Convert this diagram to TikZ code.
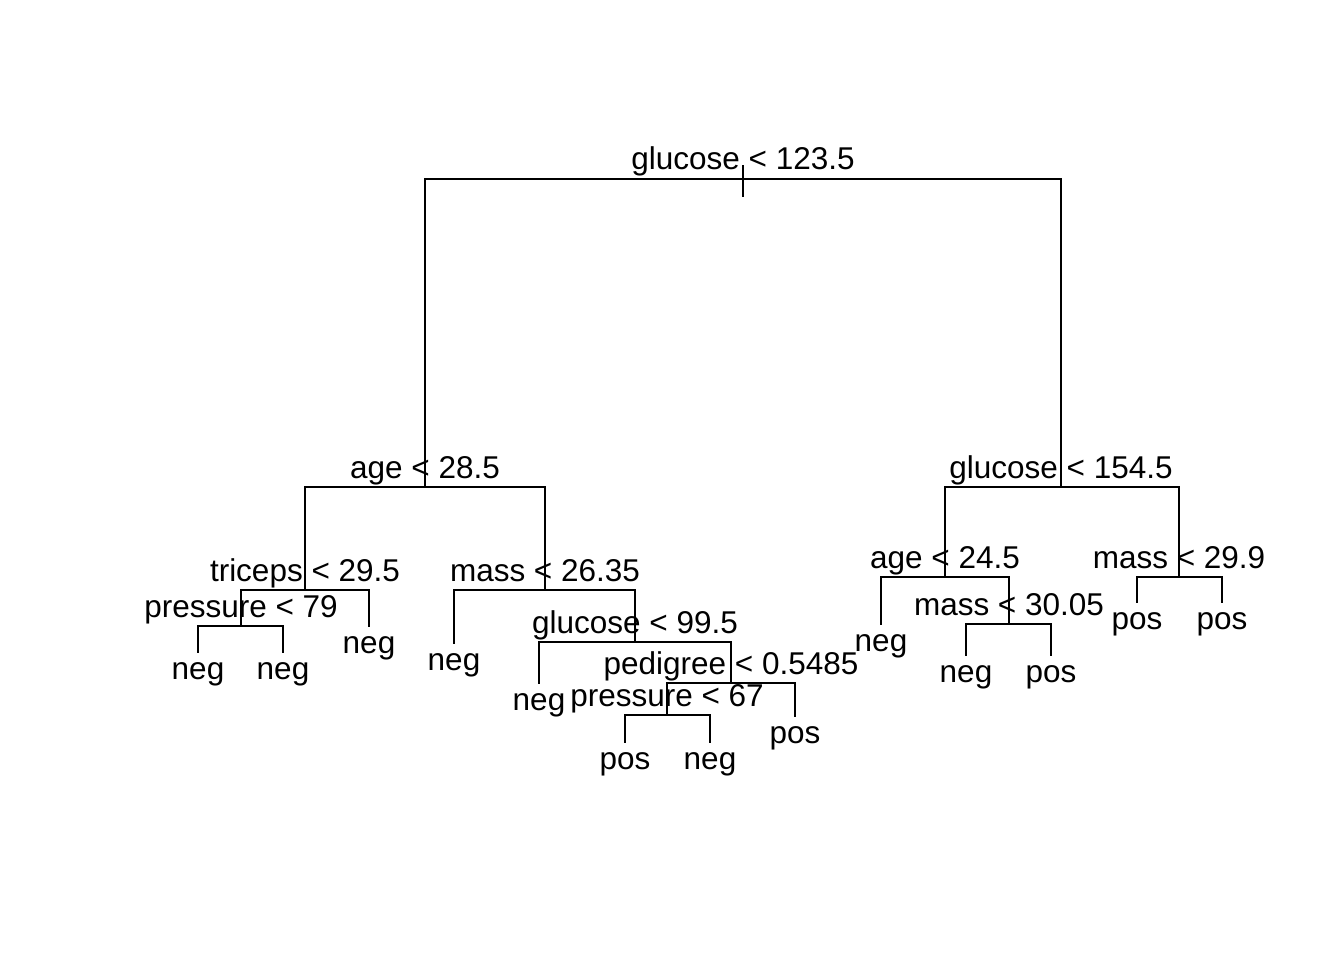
\documentclass[tikz,border=0pt]{standalone}
\usepackage{fontspec}
\setmainfont{Liberation Sans}
\begin{document}
\begin{tikzpicture}[x=1pt,y=-1pt,line width=1.8pt,
  lbl/.style={inner sep=0pt,anchor=base,font=\fontsize{31.5}{36}\selectfont},
  edge/.style={draw,line cap=rect}]
\useasboundingbox (0,0) rectangle (1344,960);
% split points (x, y of horizontal bar) and leaf ends
\coordinate (P0) at (743,179);
\coordinate (A) at (425,487);
\coordinate (B) at (1061,487);
\coordinate (C) at (305,590);
\coordinate (D) at (545,590);
\coordinate (E) at (241,626);
\coordinate (l1) at (369,626);
\coordinate (l2) at (198,652);
\coordinate (l3) at (283,652);
\coordinate (l4) at (454,643);
\coordinate (F) at (635,642);
\coordinate (l5) at (539,683);
\coordinate (G) at (731,683);
\coordinate (H) at (667,715);
\coordinate (l6) at (795,716);
\coordinate (l7) at (625,742);
\coordinate (l8) at (710,742);
\coordinate (I) at (945,577);
\coordinate (J) at (1179,577);
\coordinate (l9) at (881,624);
\coordinate (K) at (1009,624);
\coordinate (l10) at (966,655);
\coordinate (l11) at (1051,655);
\coordinate (l12) at (1137,602);
\coordinate (l13) at (1222,602);
\coordinate (t1) at (743,166);
\coordinate (t2) at (743,196);
% branches
\draw[edge] (A) -- (A |- P0) -- (B |- P0) -- (B);
\draw[edge] (t1) -- (t2);
\draw[edge] (C) -- (C |- A) -- (D |- A) -- (D);
\draw[edge] (E) -- (E |- C) -- (l1 |- C) -- (l1);
\draw[edge] (l2) -- (l2 |- E) -- (l3 |- E) -- (l3);
\draw[edge] (l4) -- (l4 |- D) -- (F |- D) -- (F);
\draw[edge] (l5) -- (l5 |- F) -- (G |- F) -- (G);
\draw[edge] (H) -- (H |- G) -- (l6 |- G) -- (l6);
\draw[edge] (l7) -- (l7 |- H) -- (l8 |- H) -- (l8);
\draw[edge] (I) -- (I |- B) -- (J |- B) -- (J);
\draw[edge] (l9) -- (l9 |- I) -- (K |- I) -- (K);
\draw[edge] (l10) -- (l10 |- K) -- (l11 |- K) -- (l11);
\draw[edge] (l12) -- (l12 |- J) -- (l13 |- J) -- (l13);
% split labels
\node[lbl] (sP0) at ([yshift=9pt]P0) {glucose < 123.5};
\node[lbl] (sA) at ([yshift=9pt]A) {age < 28.5};
\node[lbl] (sB) at ([yshift=9pt]B) {glucose < 154.5};
\node[lbl] (sC) at ([yshift=9pt]C) {triceps < 29.5};
\node[lbl] (sD) at ([yshift=9pt]D) {mass < 26.35};
\node[lbl] (sE) at ([yshift=9pt]E) {pressure < 79};
\node[lbl] (sF) at ([yshift=9pt]F) {glucose < 99.5};
\node[lbl] (sG) at ([yshift=9pt]G) {pedigree < 0.5485};
\node[lbl] (sH) at ([yshift=9pt]H) {pressure < 67};
\node[lbl] (sI) at ([yshift=9pt]I) {age < 24.5};
\node[lbl] (sJ) at ([yshift=9pt]J) {mass < 29.9};
\node[lbl] (sK) at ([yshift=9pt]K) {mass < 30.05};
% leaf labels
\node[lbl] (L1) at ([yshift=-27pt]l1) {neg};
\node[lbl] (L2) at ([yshift=-27pt]l2) {neg};
\node[lbl] (L3) at ([yshift=-27pt]l3) {neg};
\node[lbl] (L4) at ([yshift=-27pt]l4) {neg};
\node[lbl] (L5) at ([yshift=-27pt]l5) {neg};
\node[lbl] (L6) at ([yshift=-27pt]l6) {pos};
\node[lbl] (L7) at ([yshift=-27pt]l7) {pos};
\node[lbl] (L8) at ([yshift=-27pt]l8) {neg};
\node[lbl] (L9) at ([yshift=-27pt]l9) {neg};
\node[lbl] (L10) at ([yshift=-27pt]l10) {neg};
\node[lbl] (L11) at ([yshift=-27pt]l11) {pos};
\node[lbl] (L12) at ([yshift=-27pt]l12) {pos};
\node[lbl] (L13) at ([yshift=-27pt]l13) {pos};
\end{tikzpicture}
\end{document}
